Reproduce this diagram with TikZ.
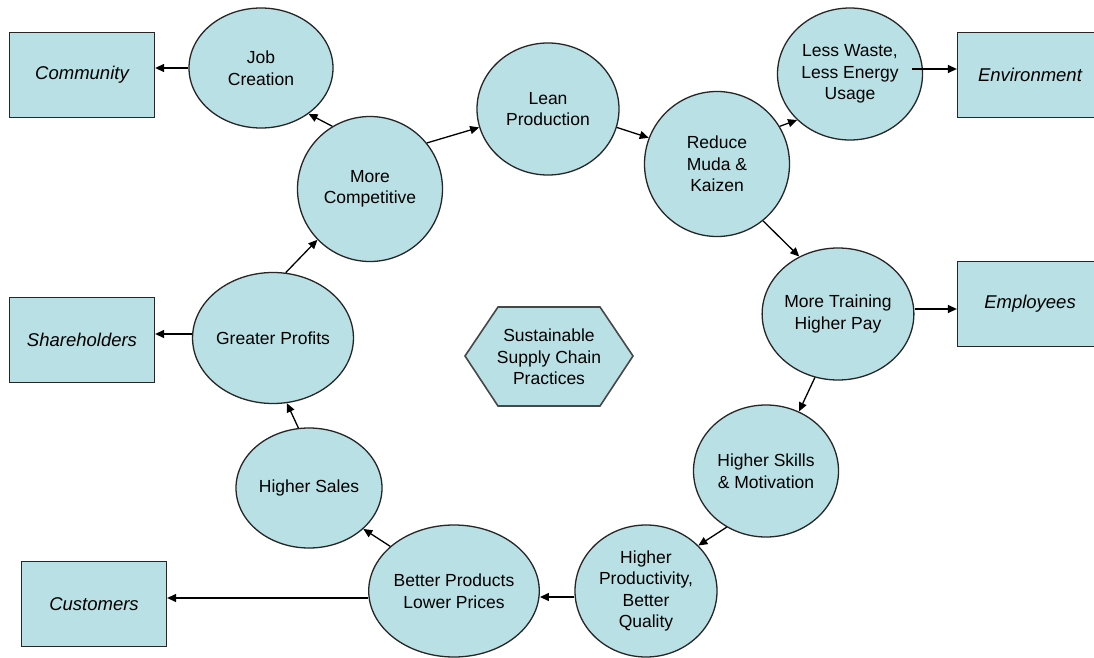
\documentclass[tikz,border=0pt]{standalone}
\usepackage{fontspec}
\setmainfont{Liberation Sans}
\usetikzlibrary{shapes.geometric,arrows.meta,calc}
\definecolor{fillc}{HTML}{B9E0E4}
\definecolor{edgec}{HTML}{262626}
\begin{document}
\begin{tikzpicture}[x=1pt,y=-1pt,
  bub/.style={ellipse,draw=edgec,line width=1.3pt,fill=fillc,inner sep=0pt,align=center,
    font=\fontsize{17.5}{21.5}\selectfont},
  sz/.style 2 args={minimum width=#1pt,minimum height=#2pt},
  party/.style={rectangle,draw=edgec,line width=1.3pt,fill=fillc,minimum width=145pt,
    minimum height=85pt,inner sep=0pt,font=\fontsize{18.5}{22}\selectfont\itshape},
  arr/.style={-{Triangle[length=9pt,width=8pt]},line width=1.3pt,black}]
\useasboundingbox (0,0) rectangle (1094,658);
\fill[white] (0,0) rectangle (1094,658);

% stakeholder boxes
\node[party] (community) at (82,75) {Community};
\node[party] (sharehold) at (82,340) {Shareholders};
\node[party] (customers) at (94,604) {Customers};
\node[party] (environ) at (1030,75) {Environment};
\node[party] (employees) at (1030,304) {Employees};

% cycle bubbles
\node[bub,sz={144}{120}] (jc) at (261,68) {Job\\Creation};
\node[bub,sz={145}{145}] (mc) at (370,189) {More\\Competitive};
\node[bub,sz={142}{132}] (lp) at (548,109) {Lean\\Production};
\node[bub,sz={145}{145}] (rm) at (717,164) {Reduce\\Muda \&\\Kaizen};
\node[bub,sz={145}{132}] (lw) at (850,74) {Less Waste,\\Less Energy\\Usage};
\node[bub,sz={145}{132}] (mt) at (838,314) {More Training\\Higher Pay};
\node[bub,sz={145}{132}] (hs) at (766,471) {Higher Skills\\\& Motivation};
\node[bub,sz={142}{132}] (hp) at (646,591) {Higher\\Productivity,\\Better\\Quality};
\node[bub,sz={142}{132}] (bp) at (454,591) {Better Products\\Lower Prices};
\node[bub,sz={146}{120}] (sa) at (309,488) {Higher Sales};
\node[bub,sz={143}{131}] (gp) at (273,338) {Greater Profits};

% central hexagon
\fill[fillc] (465,356) -- (498,307) -- (600,307) -- (633,356) -- (600,406) -- (498,406) -- cycle;
\draw[edgec!85,line width=1.6pt,line join=miter] (465,356) -- (498,307) -- (600,307) -- (633,356) -- (600,406) -- (498,406) -- cycle;
\node[align=center,inner sep=0pt,font=\fontsize{17.5}{21.5}\selectfont] (hex) at (549,357)
  {Sustainable\\Supply Chain\\Practices};

% connectors
\coordinate (jcout) at (jc.west);
\draw[arr] (jcout) -- (jcout -| community.east);
\draw[arr] (mc.121) -- (jc.316);
\draw[arr] (mc.39) -- (lp.195);
\draw[arr] (lp.345) -- (rm.159);
\draw[arr] (rm.31) -- (lw.221);
\coordinate (lwout) at ($(lw.east)+(-11,-5)$);
\draw[arr] (lwout) -- (lwout -| environ.west);
\draw[arr] (rm.309) -- (mt.124);
\coordinate (mtout) at ($(mt.east)+(0,-5)$);
\draw[arr] (mtout) -- (mtout -| employees.west);
\draw[arr] (mt.250) -- (hs.61);
\draw[arr] (hs.235) -- (hp.41);
\coordinate (hpout) at ($(hp.west)+(0,6)$);
\draw[arr] (hpout) -- (hpout -| bp.east);
\draw[arr] (bp.145) -- (sa.323);
\coordinate (bpout) at ($(bp.west)+(0,7)$);
\draw[arr] (bpout) -- (bpout -| customers.east);
\draw[arr] (sa.100) -- (gp.282);
\coordinate (gpout) at ($(gp.west)+(0,-4)$);
\draw[arr] (gpout) -- (gpout -| sharehold.east);
\draw[arr] (gp.79) -- (mc.224);
\end{tikzpicture}
\end{document}
